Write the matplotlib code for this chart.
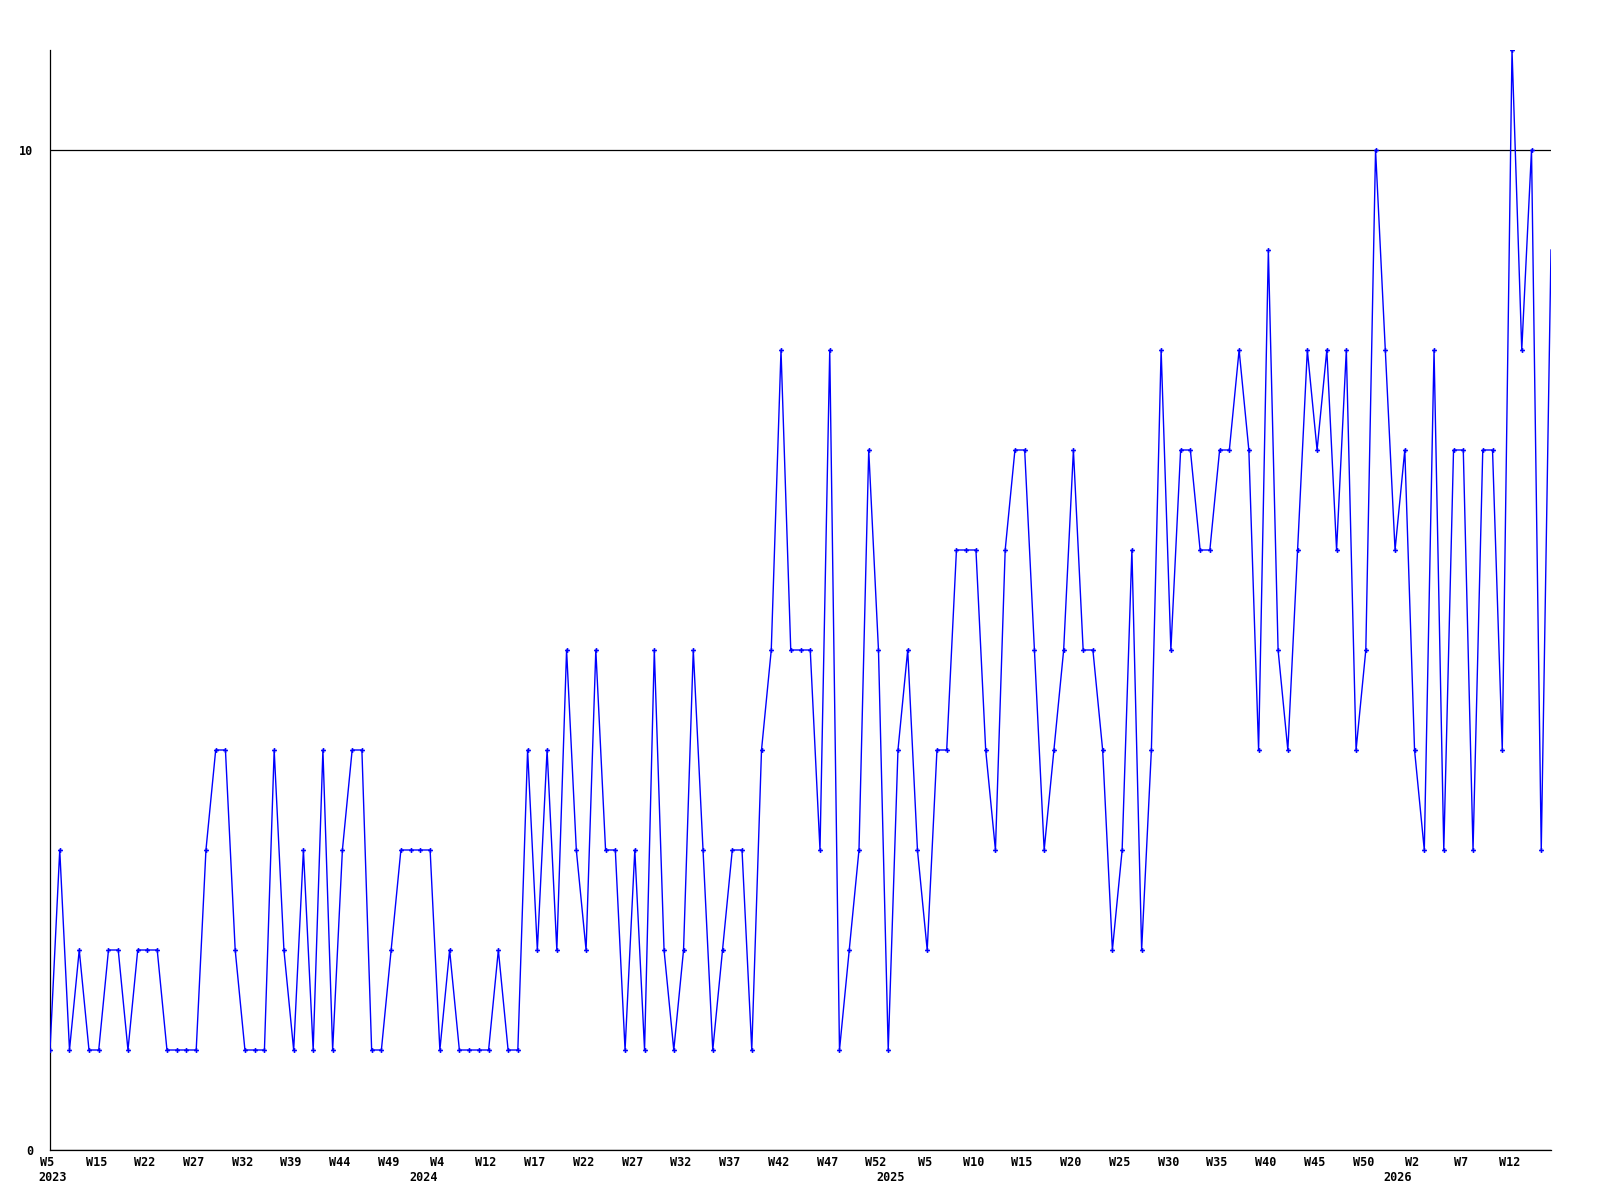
import matplotlib
matplotlib.use("Agg")
import matplotlib.pyplot as plt
import matplotlib.transforms as mtransforms
import numpy as np

# ---- data ----
values = [
    1, 3, 1, 2, 1, 1, 2, 2, 1, 2,
    2, 2, 1, 1, 1, 1, 3, 4, 4, 2,
    1, 1, 1, 4, 2, 1, 3, 1, 4, 1,
    3, 4, 4, 1, 1, 2, 3, 3, 3, 3,
    1, 2, 1, 1, 1, 1, 2, 1, 1, 4,
    2, 4, 2, 5, 3, 2, 5, 3, 3, 1,
    3, 1, 5, 2, 1, 2, 5, 3, 1, 2,
    3, 3, 1, 4, 5, 8, 5, 5, 5, 3,
    8, 1, 2, 3, 7, 5, 1, 4, 5, 3,
    2, 4, 4, 6, 6, 6, 4, 3, 6, 7,
    7, 5, 3, 4, 5, 7, 5, 5, 4, 2,
    3, 6, 2, 4, 8, 5, 7, 7, 6, 6,
    7, 7, 8, 7, 4, 9, 5, 4, 6, 8,
    7, 8, 6, 8, 4, 5, 10, 8, 6, 7,
    4, 3, 8, 3, 7, 7, 3, 7, 7, 4,
    11, 8, 10, 3, 9,
]
week_labels = ["W5", "W15", "W22", "W27", "W32", "W39", "W44", "W49",
               "W4", "W12", "W17", "W22", "W27", "W32", "W37", "W42",
               "W47", "W52", "W5", "W10", "W15", "W20", "W25", "W30",
               "W35", "W40", "W45", "W50", "W2", "W7", "W12"]
label_every = 5
year_labels = ["2023", "2024", "2025", "2026"]
year_label_index = [0, 38, 86, 138]
y_ticks = [0, 10]

# ---- figure ----
W, H = 1600, 1200
fig = plt.figure(figsize=(16, 12), dpi=100)
left, right, bottom, top = 50 / W, 1551 / W, 1 - 1150 / H, 1 - 50 / H
ax = fig.add_axes([left, bottom, right - left, top - bottom])

x = np.arange(len(values))
ax.plot(x, values, color="#0000ff", lw=1.0, zorder=3)
ax.plot(x[:-1], values[:-1], color="#0000ff", lw=0, marker="P", ms=3.5,
        markeredgewidth=0, zorder=4)

ax.set_xlim(0, len(values) - 1)
ax.set_ylim(0, 11)

font = dict(family="DejaVu Sans Mono", weight="bold", size=8.5)

ax.set_yticks(y_ticks)
ax.set_yticklabels([str(v) for v in y_ticks], fontdict=font)
ax.yaxis.grid(True, color="black", lw=0.9)
ax.set_axisbelow(True)

tick_pos = np.arange(0, label_every * len(week_labels), label_every)
ax.set_xticks(tick_pos)
ax.set_xticklabels(week_labels, fontdict=font)

ax.tick_params(axis="x", length=0, pad=4.3)
ax.tick_params(axis="y", length=0, pad=12)

shift = mtransforms.ScaledTranslation(-2.5 / 100, 0, fig.dpi_scale_trans)
for lbl in ax.get_xticklabels():
    lbl.set_transform(lbl.get_transform() + shift)

for lab, idx in zip(year_labels, year_label_index):
    ax.annotate(lab, xy=(idx, 0), xycoords=("data", "axes fraction"),
                xytext=(2, -15.2), textcoords="offset points",
                ha="center", va="top", annotation_clip=False, **font)

for s in ["top", "right"]:
    ax.spines[s].set_visible(False)
for s in ["left", "bottom"]:
    ax.spines[s].set_color("black")
    ax.spines[s].set_linewidth(0.9)

fig.savefig("out.png", dpi=100, facecolor="white")
